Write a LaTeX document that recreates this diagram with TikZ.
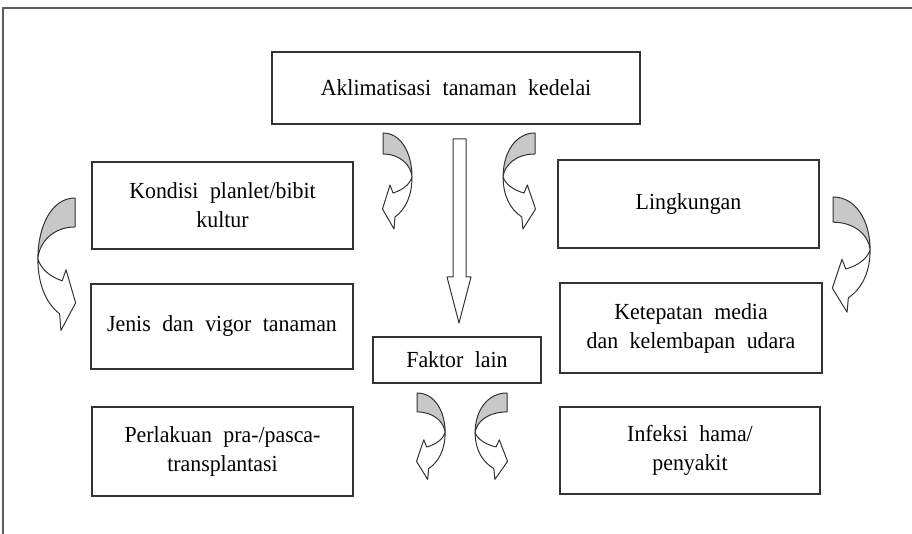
\documentclass[tikz,border=0pt]{standalone}
\usepackage{fontspec}
\setmainfont{Liberation Serif}[WordSpace=2.1, FakeStretch=0.95]
\definecolor{linecol}{HTML}{333333}
\definecolor{arrgray}{HTML}{C8C8C8}
\newcommand{\curvarr}[4]{%
\begin{scope}[shift={(#1,#2)},xscale=#3,yscale=#4]
\filldraw[arrline, fill=arrgray] (0,0) .. controls (18,0) and (29,20) .. (29,44) .. controls (28,32) and (17,21) .. (0,21) -- cycle;
\filldraw[arrline, fill=white] (29,44) .. controls (29,62) and (23,76) .. (12,84) -- (11,96) -- (-0.5,76) -- (7,52) -- (10,60) .. controls (20,57) and (27,51) .. (29,44) -- cycle;
\end{scope}}
\begin{document}
\begin{tikzpicture}[x=1pt,y=-1pt,
  box/.style={draw=linecol, line width=1.3pt, inner sep=0pt, align=center,
    font=\fontsize{23}{29}\selectfont},
  arrline/.style={draw=linecol, line width=1pt, line join=round},
  frame/.style={draw=linecol!80, line width=1.2pt}]
\useasboundingbox (0,0) rectangle (912,534);
\draw[frame] (912,8) -- (3,8) -- (3,534);
\node[box, minimum width=368pt, minimum height=72pt] (top) at (456,88) {Aklimatisasi tanaman kedelai};
\node[box, minimum width=261pt, minimum height=87pt] (kondisi) at (222.5,205.5) {Kondisi planlet/bibit\\kultur};
\node[box, minimum width=262pt, minimum height=85pt] (jenis) at (222,326.5) {Jenis dan vigor tanaman};
\node[box, minimum width=261pt, minimum height=89pt] (perlakuan) at (222.5,451.5) {Perlakuan pra-/pasca-\\transplantasi};
\node[box, minimum width=261pt, minimum height=88pt] (ling) at (688.5,204) {Lingkungan};
\node[box, minimum width=262pt, minimum height=90pt] (ketepatan) at (691,328) {Ketepatan media\\dan kelembapan udara};
\node[box, minimum width=260pt, minimum height=87pt] (infeksi) at (690,450.5) {Infeksi hama/\\penyakit};
\node[box, minimum width=168pt, minimum height=46pt] (faktor) at (457,360) {Faktor lain};
% central block arrow
\filldraw[arrline, fill=white] (453,139) -- (466,139) -- (466,277) -- (471,277) -- (459,323) -- (447,277) -- (453,277) -- cycle;
% curved arrows
\curvarr{383}{133}{1}{1}
\curvarr{535}{133}{-1.1}{1}
\curvarr{75}{198}{-1.28}{1.38}
\curvarr{833}{197}{1.28}{1.2}
\curvarr{417}{393}{0.97}{0.9}
\curvarr{507}{393}{-1.1}{0.9}
\end{tikzpicture}
\end{document}
